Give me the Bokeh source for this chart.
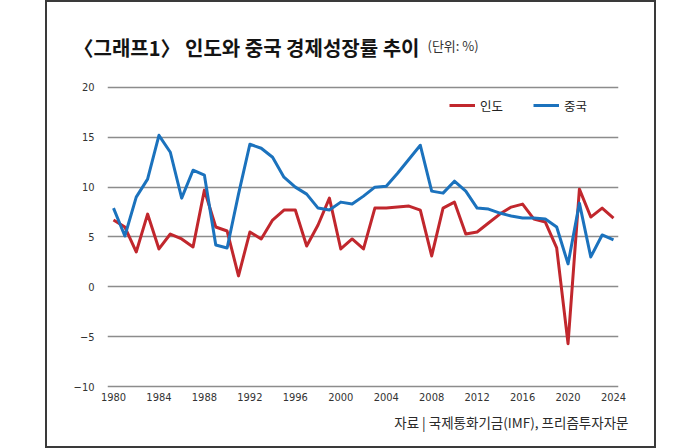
from bokeh.plotting import figure
from bokeh.layouts import column, row
from bokeh.models import (Range1d, FixedTicker, CustomJSTickFormatter, Label,
                          Legend, LegendItem)
from bokeh.embed import file_html
from bokeh.resources import INLINE

# ---- data ----
years = [1980, 1981, 1982, 1983, 1984, 1985, 1986, 1987, 1988, 1989,
         1990, 1991, 1992, 1993, 1994, 1995, 1996, 1997, 1998, 1999,
         2000, 2001, 2002, 2003, 2004, 2005, 2006, 2007, 2008, 2009,
         2010, 2011, 2012, 2013, 2014, 2015, 2016, 2017, 2018, 2019,
         2020, 2021, 2022, 2023, 2024]
india = [6.7, 6.0, 3.5, 7.3, 3.8, 5.3, 4.8, 4.0, 9.7, 6.0,
         5.6, 1.1, 5.5, 4.8, 6.7, 7.7, 7.7, 4.1, 6.2, 8.9,
         3.8, 4.8, 3.8, 7.9, 7.9, 8.0, 8.1, 7.7, 3.1, 7.9,
         8.5, 5.3, 5.5, 6.4, 7.3, 8.0, 8.3, 6.8, 6.5, 3.9,
         -5.7, 9.8, 7.0, 7.9, 6.9]
china = [7.9, 5.1, 9.0, 10.8, 15.2, 13.5, 8.9, 11.7, 11.2, 4.2,
         3.9, 9.3, 14.3, 13.9, 13.0, 11.0, 10.0, 9.3, 7.9, 7.7,
         8.5, 8.3, 9.1, 10.0, 10.1, 11.4, 12.8, 14.2, 9.6, 9.4,
         10.6, 9.6, 7.9, 7.8, 7.4, 7.1, 6.9, 6.9, 6.8, 6.0,
         2.3, 8.4, 3.0, 5.2, 4.7]
x_ticks = [1980, 1984, 1988, 1992, 1996, 2000, 2004, 2008, 2012, 2016, 2020, 2024]
y_ticks = [-10, -5, 0, 5, 10, 15, 20]
series_names = ["인도", "중국"]
title_text = "〈그래프1〉 인도와 중국 경제성장률 추이"
unit_text = "(단위: %)"
source_text = "자료 | 국제통화기금(IMF), 프리즘투자자문"

RED = "#c1272d"
BLUE = "#1b72bd"
KR = "'Noto Sans CJK KR', 'Noto Sans', sans-serif"
NUM = "'Liberation Sans Narrow', 'DejaVu Sans Condensed', 'Liberation Sans', sans-serif"

# ---- layout (page px; the page is drawn from its top-left corner) ----
BOX_L = 45                  # outer left edge of the frame box
BW = 2                      # box line width
BL, BR = BOX_L + BW, 654    # inner edges of the frame box
W = BR - BL
TOP_Y0, TOP_Y1 = BW, 77     # title strip
MID_Y1 = 410                # main chart strip bottom
BOT_Y1 = 446                # source strip bottom
X0, X1 = 1979.472, 2024.44
Y0, Y1 = -10.5, 21.0
FL, FR, FB = 107, 618, 391  # frame edges of the chart on the page


def strip(y_top, y_bottom):
    f = figure(width=W, height=y_bottom - y_top, output_backend="svg",
               toolbar_location=None, x_axis_location=None, y_axis_location=None,
               x_range=Range1d(BL, BR), y_range=Range1d(y_bottom, y_top),
               min_border=0)
    f.outline_line_color = None
    f.xgrid.visible = False
    f.ygrid.visible = False
    f.background_fill_color = "white"
    f.border_fill_color = "white"
    return f


# title strip
top = strip(TOP_Y0, TOP_Y1)
top.add_layout(Label(x=73, y=47, text=title_text,
                     text_font=KR, text_font_size="20px", text_font_style="bold",
                     text_color="#141414", text_align="left", text_baseline="middle"))
top.add_layout(Label(x=427, y=45, text=unit_text,
                     text_font=KR, text_font_size="13px",
                     text_color="#333333", text_align="left", text_baseline="middle"))

# main chart
p = figure(width=W, height=MID_Y1 - TOP_Y1, output_backend="svg", toolbar_location=None,
           x_range=Range1d(X0, X1), y_range=Range1d(Y0, Y1),
           min_border_left=FL - BL, min_border_right=BR - FR,
           min_border_top=0, min_border_bottom=MID_Y1 - FB)
p.outline_line_color = None
p.background_fill_color = "white"
p.border_fill_color = "white"

p.xgrid.visible = False
p.ygrid.ticker = FixedTicker(ticks=y_ticks)
p.ygrid.grid_line_color = "#8c8c8c"
p.ygrid.grid_line_width = 1.3

for ax in (p.xaxis[0], p.yaxis[0]):
    ax.axis_line_color = None
    ax.major_tick_line_color = None
    ax.minor_tick_line_color = None
    ax.major_tick_in = 0
    ax.major_tick_out = 0
    ax.major_label_text_font = NUM
    ax.major_label_text_font_size = "11px"
    ax.major_label_text_color = "#333333"

p.xaxis[0].ticker = FixedTicker(ticks=x_ticks)
p.xaxis[0].major_label_standoff = 1
p.yaxis[0].ticker = FixedTicker(ticks=y_ticks)
p.yaxis[0].major_label_standoff = 13
p.yaxis[0].formatter = CustomJSTickFormatter(
    code="return tick < 0 ? '\\u2212' + Math.abs(tick) : String(tick);")

r_india = p.line(years, india, line_color=RED, line_width=3, line_join="round")
r_china = p.line(years, china, line_color=BLUE, line_width=3, line_join="round")

legend = Legend(items=[LegendItem(label=series_names[0], renderers=[r_india]),
                       LegendItem(label=series_names[1], renderers=[r_china])],
                orientation="horizontal", location=(449 - FL, FB - 115),
                glyph_width=26, glyph_height=20, label_standoff=5, spacing=30,
                padding=0, margin=0, border_line_color=None,
                background_fill_alpha=0,
                label_text_font=KR, label_text_font_size="12.5px",
                label_text_color="#222222")
p.add_layout(legend, "center")

# source strip
bot = strip(MID_Y1, BOT_Y1)
bot.add_layout(Label(x=628, y=421, text=source_text,
                     text_font=KR, text_font_size="13.5px",
                     text_color="#2a2a2a", text_align="right", text_baseline="middle"))

border = "%dpx solid #3a3a3a" % BW
page = column(row(top), p, row(bot), spacing=0, margin=(0, 0, 0, BOX_L),
              styles={"border-left": border, "border-right": border,
                      "border-top": border, "border-bottom": border})

open("out.html", "w").write(file_html(page, INLINE))
